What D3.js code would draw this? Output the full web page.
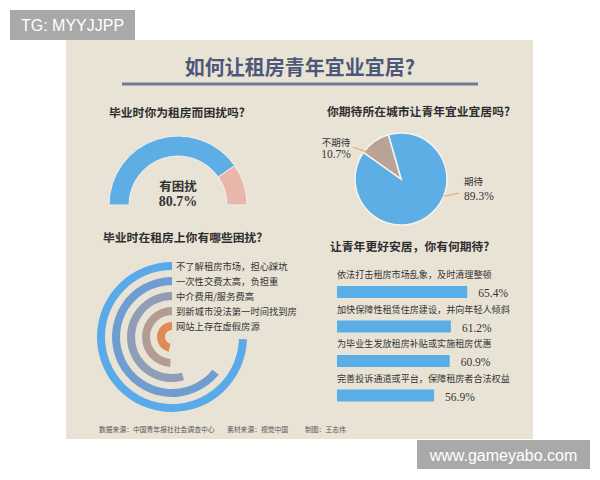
<!DOCTYPE html>
<html><head><meta charset="utf-8">
<script src="https://cdn.jsdelivr.net/npm/d3@7"></script>
<style>body{margin:0;background:#fff;} svg{display:block}</style>
</head><body><svg id="c" width="600" height="480"></svg>
<script>
const mainTitle = "如何让租房青年宜业宜居?";
const q1Title = "毕业时你为租房而困扰吗?";
const q1Labels = ["有困扰", "没有困扰"];
const q1Values = [80.7, 19.3];
const q2Title = "你期待所在城市让青年宜业宜居吗?";
const q2Labels = ["期待", "不期待"];
const q2Values = [89.3, 10.7];
const q3Title = "毕业时在租房上你有哪些困扰?";
const q3Labels = ["不了解租房市场，担心踩坑", "一次性交费太高，负担重", "中介费用/服务费高", "到新城市没法第一时间找到房", "网站上存在虚假房源"];
const q3Values = [74.5, 64.2, 54.3, 49.0, 46.5];
const q4Title = "让青年更好安居，你有何期待?";
const q4Labels = ["依法打击租房市场乱象，及时清理整顿", "加快保障性租赁住房建设，并向年轻人倾斜", "为毕业生发放租房补贴或实施租房优惠", "完善投诉通道或平台，保障租房者合法权益"];
const q4Values = [65.4, 61.2, 60.9, 56.9];
const footerTexts = ["数据来源：中国青年报社社会调查中心", "素材来源：视觉中国", "制图：王志伟"];
const wmTop = "TG: MYYJJPP";
const wmBottom = "www.gameyabo.com";

const CJK = "'Noto Sans CJK SC','Noto Sans',sans-serif";
const NUM = "'Liberation Serif','DejaVu Serif',serif";
const svg = d3.select("#c");
const fmt = v => d3.format(".1f")(v) + "%";

// panel
svg.append("rect").attr("x", 66).attr("y", 40).attr("width", 467).attr("height", 399).attr("fill", "#e9e3d6");

// main title
svg.append("text").attr("x", 300).attr("y", 66).attr("text-anchor", "middle").attr("dominant-baseline", "central")
  .attr("font-family", CJK).attr("font-weight", 700).attr("font-size", 20).attr("fill", "#4c5877").text(mainTitle);
svg.append("rect").attr("x", 122).attr("y", 82.5).attr("width", 356).attr("height", 3).attr("fill", "#6f7b90");

function secTitle(t, x, y) {
  svg.append("text").attr("x", x).attr("y", y).attr("dominant-baseline", "central")
    .attr("font-family", CJK).attr("font-weight", 700).attr("font-size", 11.8).attr("fill", "#2e2e2e").text(t);
}
secTitle(q1Title, 109, 111);
secTitle(q2Title, 327, 110);
secTitle(q3Title, 103, 236);
secTitle(q4Title, 330, 245);

// ---- Q1 half donut
{
  const g = svg.append("g").attr("transform", "translate(178,205)");
  const pie = d3.pie().sort(null).startAngle(-Math.PI / 2).endAngle(Math.PI / 2);
  const arc = d3.arc().innerRadius(49).outerRadius(69);
  const col = d3.scaleOrdinal().domain(q1Labels).range(["#5eaee6", "#e8b6aa"]);
  const arcs = pie(q1Values);
  g.selectAll("path").data(arcs).join("path").attr("d", arc)
    .attr("fill", (d, i) => col(q1Labels[i])).attr("stroke", "#f4f0ea").attr("stroke-width", 1);
  g.append("text").attr("y", -20).attr("text-anchor", "middle").attr("dominant-baseline", "central")
    .attr("font-family", CJK).attr("font-weight", 700).attr("font-size", 12.5).attr("fill", "#333").text(q1Labels[0]);
  g.append("text").attr("y", -4).attr("text-anchor", "middle").attr("dominant-baseline", "central")
    .attr("font-family", NUM).attr("font-weight", 700).attr("font-size", 14).attr("fill", "#333").text(fmt(q1Values[0]));
}

// ---- Q2 pie
{
  const cx = 401, cy = 179, r = 46;
  const g = svg.append("g").attr("transform", `translate(${cx},${cy})`);
  const a0 = -16 * Math.PI / 180;
  const pie = d3.pie().sort(null).startAngle(a0).endAngle(a0 + 2 * Math.PI);
  const arc = d3.arc().innerRadius(0).outerRadius(r);
  const col = d3.scaleOrdinal().domain(q2Labels).range(["#5eaee6", "#b9a396"]);
  const arcs = pie(q2Values);
  g.selectAll("path").data(arcs).join("path").attr("d", arc)
    .attr("fill", (d, i) => col(q2Labels[i])).attr("stroke", "#f7f4ef").attr("stroke-width", 1.5);
  // leader lines + labels
  const pt = (ang, rr) => [rr * Math.sin(ang), -rr * Math.cos(ang)];
  // 期待
  const p1 = pt(112 * Math.PI / 180, r);
  g.append("line").attr("x1", p1[0]).attr("y1", p1[1]).attr("x2", p1[0] + 15).attr("y2", p1[1] - 3)
    .attr("stroke", "#eaa45c").attr("stroke-width", 1.2);
  g.append("text").attr("x", 63).attr("y", 2).attr("dominant-baseline", "central")
    .attr("font-family", CJK).attr("font-size", 9.5).attr("fill", "#333").text(q2Labels[0]);
  g.append("text").attr("x", 63).attr("y", 17).attr("dominant-baseline", "central")
    .attr("font-family", NUM).attr("font-size", 11.5).attr("fill", "#333").text(fmt(q2Values[0]));
  // 不期待
  const sa = arcs[1].startAngle + 0.08;
  const p2 = pt(sa, r - 6);
  g.append("line").attr("x1", p2[0]).attr("y1", p2[1]).attr("x2", p2[0] - 17).attr("y2", p2[1] - 6)
    .attr("stroke", "#eaa45c").attr("stroke-width", 1.2);
  g.append("text").attr("x", -65).attr("y", -37).attr("text-anchor", "middle").attr("dominant-baseline", "central")
    .attr("font-family", CJK).attr("font-size", 9.5).attr("fill", "#333").text(q2Labels[1]);
  g.append("text").attr("x", -65).attr("y", -25).attr("text-anchor", "middle").attr("dominant-baseline", "central")
    .attr("font-family", NUM).attr("font-size", 11.5).attr("fill", "#333").text(fmt(q2Values[1]));
}

// ---- Q3 radial bars
{
  const g = svg.append("g").attr("transform", "translate(172,337)");
  const rad = d3.scaleBand().domain(q3Labels).range([75, 7]).paddingInner(7 / 15).paddingOuter(0);
  const ang = d3.scaleLinear().domain([0, 100]).range([0, 2 * Math.PI]);
  const col = d3.scaleOrdinal().domain(q3Labels).range(["#5aaaea", "#6f9dcf", "#8f9db6", "#b29c93", "#e08a57"]);
  const arc = d3.arc()
    .innerRadius(d => rad(d.label))
    .outerRadius(d => rad(d.label) + rad.bandwidth())
    .startAngle(d => -ang(d.value))
    .endAngle(0);
  const data = q3Labels.map((l, i) => ({ label: l, value: q3Values[i] }));
  g.selectAll("path").data(data).join("path").attr("d", arc).attr("fill", d => col(d.label));
  g.selectAll("text.lab").data(data).join("text").attr("class", "lab")
    .attr("x", 4).attr("y", d => -(rad(d.label) + rad.bandwidth() / 2))
    .attr("dominant-baseline", "central").attr("font-family", CJK).attr("font-size", 9.3).attr("fill", "#333")
    .text(d => d.label);
}

// ---- Q4 horizontal bars
{
  const x = d3.scaleLinear().domain([32, 66]).range([337, 469.6]);
  const y = d3.scaleBand().domain(q4Labels).range([286, 286 + 34.5 * 4]).paddingInner(0);
  const bh = 12;
  const data = q4Labels.map((l, i) => ({ label: l, value: q4Values[i] }));
  const g = svg.append("g");
  g.selectAll("rect").data(data).join("rect")
    .attr("x", x(32)).attr("y", d => y(d.label)).attr("width", d => x(d.value) - x(32)).attr("height", bh)
    .attr("fill", "#5aaee8");
  g.selectAll("text.lab").data(data).join("text").attr("class", "lab")
    .attr("x", x(32)).attr("y", d => y(d.label) - 12).attr("dominant-baseline", "central")
    .attr("font-family", CJK).attr("font-size", 9.1).attr("fill", "#333").text(d => d.label);
  g.selectAll("text.val").data(data).join("text").attr("class", "val")
    .attr("x", d => x(d.value) + 11).attr("y", d => y(d.label) + bh / 2 + 1).attr("dominant-baseline", "central")
    .attr("font-family", NUM).attr("font-size", 11.5).attr("fill", "#333").text(d => fmt(d.value));
}

// footer
const fx = [99, 227, 305];
footerTexts.forEach((t, i) => {
  svg.append("text").attr("x", fx[i]).attr("y", 429).attr("dominant-baseline", "central")
    .attr("font-family", CJK).attr("font-size", 6.8).attr("fill", "#555").text(t);
});

// watermarks
svg.append("rect").attr("x", 10).attr("y", 10).attr("width", 125).attr("height", 30).attr("fill", "#a9a9a9");
svg.append("text").attr("x", 72.5).attr("y", 25.5).attr("text-anchor", "middle").attr("dominant-baseline", "central")
  .attr("font-family", "'Liberation Sans',Arial,sans-serif").attr("font-size", 16).attr("fill", "#fff").text(wmTop);
svg.append("rect").attr("x", 417).attr("y", 440).attr("width", 173).attr("height", 29).attr("fill", "#a9a9a9");
svg.append("text").attr("x", 503.5).attr("y", 455).attr("text-anchor", "middle").attr("dominant-baseline", "central")
  .attr("font-family", "'Liberation Sans',Arial,sans-serif").attr("font-size", 16).attr("fill", "#fff").text(wmBottom);
</script></body></html>
